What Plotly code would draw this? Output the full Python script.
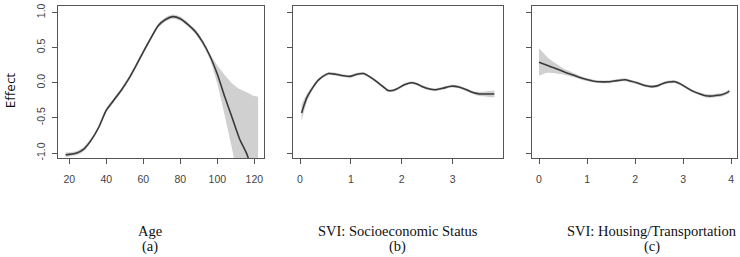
import plotly.graph_objects as go

# ---------------- data ----------------
age_x   = [18, 20, 24, 28, 32, 36, 40, 44, 48, 52, 56, 60, 64, 68, 72, 76, 80, 84, 88, 92, 96, 100, 104, 108, 112, 116, 120, 122]
age_fit = [-1.025, -1.02, -1.0, -0.94, -0.81, -0.63, -0.39, -0.25, -0.11, 0.05, 0.24, 0.44, 0.63, 0.81, 0.90, 0.94, 0.91, 0.83, 0.73, 0.58, 0.38, 0.12, -0.20, -0.50, -0.80, -1.02, -1.35, -1.50]
age_lo  = [-1.06, -1.05, -1.03, -0.97, -0.84, -0.66, -0.42, -0.28, -0.14, 0.02, 0.21, 0.41, 0.60, 0.78, 0.87, 0.91, 0.88, 0.80, 0.70, 0.54, 0.33, -0.02, -0.47, -0.95, -1.50, -2.0, -2.5, -2.8]
age_hi  = [-0.99, -0.99, -0.97, -0.91, -0.78, -0.60, -0.36, -0.22, -0.08, 0.08, 0.27, 0.47, 0.66, 0.84, 0.93, 0.97, 0.94, 0.86, 0.76, 0.61, 0.41, 0.25, 0.11, -0.01, -0.09, -0.14, -0.19, -0.20]

ses_x   = [0.03, 0.13, 0.25, 0.35, 0.45, 0.56, 0.70, 0.85, 0.98, 1.12, 1.25, 1.38, 1.50, 1.62, 1.73, 1.82, 1.90, 2.05, 2.19, 2.30, 2.42, 2.55, 2.65, 2.80, 2.97, 3.12, 3.27, 3.40, 3.53, 3.68, 3.82]
ses_fit = [-0.43, -0.22, -0.07, 0.03, 0.09, 0.13, 0.12, 0.10, 0.09, 0.12, 0.13, 0.08, 0.02, -0.05, -0.11, -0.11, -0.09, -0.03, 0.0, -0.02, -0.06, -0.09, -0.10, -0.08, -0.05, -0.06, -0.10, -0.14, -0.16, -0.16, -0.16]
ses_lo  = [-0.55, -0.28, -0.10, 0.01, 0.07, 0.11, 0.10, 0.08, 0.07, 0.10, 0.11, 0.06, 0.00, -0.07, -0.13, -0.13, -0.11, -0.05, -0.02, -0.04, -0.08, -0.11, -0.12, -0.10, -0.07, -0.08, -0.12, -0.16, -0.19, -0.20, -0.21]
ses_hi  = [-0.31, -0.16, -0.04, 0.05, 0.11, 0.15, 0.14, 0.12, 0.11, 0.14, 0.15, 0.10, 0.04, -0.03, -0.09, -0.09, -0.07, -0.01, 0.02, 0.00, -0.04, -0.07, -0.08, -0.06, -0.03, -0.04, -0.08, -0.12, -0.13, -0.12, -0.11]

ht_x    = [0.0, 0.18, 0.36, 0.54, 0.71, 0.85, 0.99, 1.12, 1.23, 1.35, 1.47, 1.62, 1.79, 1.92, 2.03, 2.18, 2.34, 2.46, 2.58, 2.70, 2.83, 2.95, 3.07, 3.20, 3.35, 3.47, 3.59, 3.70, 3.80, 3.90, 3.96]
ht_fit  = [0.29, 0.245, 0.20, 0.15, 0.11, 0.075, 0.046, 0.025, 0.014, 0.012, 0.014, 0.03, 0.042, 0.02, 0.0, -0.035, -0.056, -0.045, -0.01, 0.01, 0.014, -0.02, -0.07, -0.12, -0.16, -0.185, -0.19, -0.18, -0.17, -0.145, -0.12]
ht_lo   = [0.10, 0.14, 0.13, 0.11, 0.08, 0.05, 0.025, 0.005, -0.005, -0.008, -0.006, 0.01, 0.022, 0.0, -0.02, -0.055, -0.076, -0.065, -0.03, -0.01, -0.006, -0.04, -0.09, -0.14, -0.18, -0.21, -0.215, -0.205, -0.195, -0.17, -0.15]
ht_hi   = [0.49, 0.36, 0.27, 0.19, 0.14, 0.10, 0.067, 0.045, 0.034, 0.032, 0.034, 0.05, 0.062, 0.04, 0.02, -0.015, -0.036, -0.025, 0.01, 0.03, 0.034, 0.0, -0.05, -0.10, -0.14, -0.16, -0.165, -0.155, -0.145, -0.12, -0.09]

age_ticks = [20, 40, 60, 80, 100, 120]
ses_ticks = [0, 1, 2, 3]
ht_ticks  = [0, 1, 2, 3, 4]
y_ticks   = [-1.0, -0.5, 0.0, 0.5, 1.0]
y_tick_labels = ["-1.0", "-0.5", "0.0", "0.5", "1.0"]

x_titles = ["Age", "SVI: Socioeconomic Status", "SVI: Housing/Transportation"]
sub_titles = ["(a)", "(b)", "(c)"]

# ---------------- figure ----------------
W, H = 740, 257
LINE = "#3a3a3a"
BAND = "#d0d0d0"
AXC = "#555555"

panels = [
    (age_x, age_fit, age_lo, age_hi, [13.9, 125.2], age_ticks, (58, 264)),
    (ses_x, ses_fit, ses_lo, ses_hi, [-0.138, 3.99], ses_ticks, (293, 503)),
    (ht_x, ht_fit, ht_lo, ht_hi, [-0.146, 4.12], ht_ticks, (532, 737)),
]

top_px, bot_px = 3.5, 158
ydom = [1 - bot_px / H, 1 - top_px / H]

fig = go.Figure()
layout = dict(
    width=W, height=H,
    margin=dict(l=0, r=0, t=0, b=0),
    paper_bgcolor="white", plot_bgcolor="white",
    showlegend=False,
    font=dict(family="Liberation Sans, Arial, sans-serif", color="#444444", size=10.5),
)

for i, (xs, fit, lo, hi, xr, xt, (x0, x1)) in enumerate(panels):
    n = "" if i == 0 else str(i + 1)
    xa, ya = "x" + n, "y" + n
    fig.add_trace(go.Scatter(x=xs, y=lo, mode="lines", line=dict(width=0, shape="spline", smoothing=0.6),
                             xaxis=xa, yaxis=ya, hoverinfo="skip"))
    fig.add_trace(go.Scatter(x=xs, y=hi, mode="lines", line=dict(width=0, shape="spline", smoothing=0.6),
                             fill="tonexty", fillcolor=BAND, xaxis=xa, yaxis=ya, hoverinfo="skip"))
    fig.add_trace(go.Scatter(x=xs, y=fit, mode="lines", line=dict(color=LINE, width=1.6, shape="spline", smoothing=0.6),
                             xaxis=xa, yaxis=ya))
    layout["xaxis" + n] = dict(
        domain=[x0 / W, x1 / W], range=xr, tickvals=xt, ticks="outside", ticklen=5,
        tickcolor=AXC, showline=True, linecolor=AXC, linewidth=1, mirror=True,
        showgrid=False, zeroline=False, anchor=ya, ticklabelstandoff=6,
        tickfont=dict(size=10.5, color="#444444"),
    )
    layout["yaxis" + n] = dict(
        domain=ydom, range=[-1.07, 1.085], tickvals=y_ticks, ticktext=y_tick_labels,
        ticks="outside", ticklen=5, tickcolor=AXC, showline=True, linecolor=AXC, linewidth=1,
        mirror=True, showgrid=False, zeroline=False, anchor=xa, showticklabels=(i == 0),
        tickangle=-90, ticklabelstandoff=3, tickfont=dict(size=10.5, color="#444444"),
    )

fig.update_layout(**layout)

# y-axis title
fig.add_annotation(text="Effect", x=10 / W, y=1 - 89 / H, xref="paper", yref="paper",
                   showarrow=False, textangle=-90, xanchor="center", yanchor="middle",
                   font=dict(family="Open Sans, Liberation Sans, sans-serif", size=13.5, color="#111111"))

centers = [150, 398, 652]
for c, t, s in zip(centers, x_titles, sub_titles):
    fig.add_annotation(text=t, x=c / W, y=1 - 233 / H, xref="paper", yref="paper", showarrow=False,
                       xanchor="center", yanchor="middle",
                       font=dict(family="Liberation Serif, Times New Roman, serif", size=14.5, color="#111111"))
    fig.add_annotation(text=s, x=c / W, y=1 - 248 / H, xref="paper", yref="paper", showarrow=False,
                       xanchor="center", yanchor="middle",
                       font=dict(family="Liberation Serif, Times New Roman, serif", size=14.5, color="#111111"))

fig.write_html("out.html", config={"displayModeBar": False},
               post_script="document.body.style.margin='0';document.body.style.overflow='hidden';")
